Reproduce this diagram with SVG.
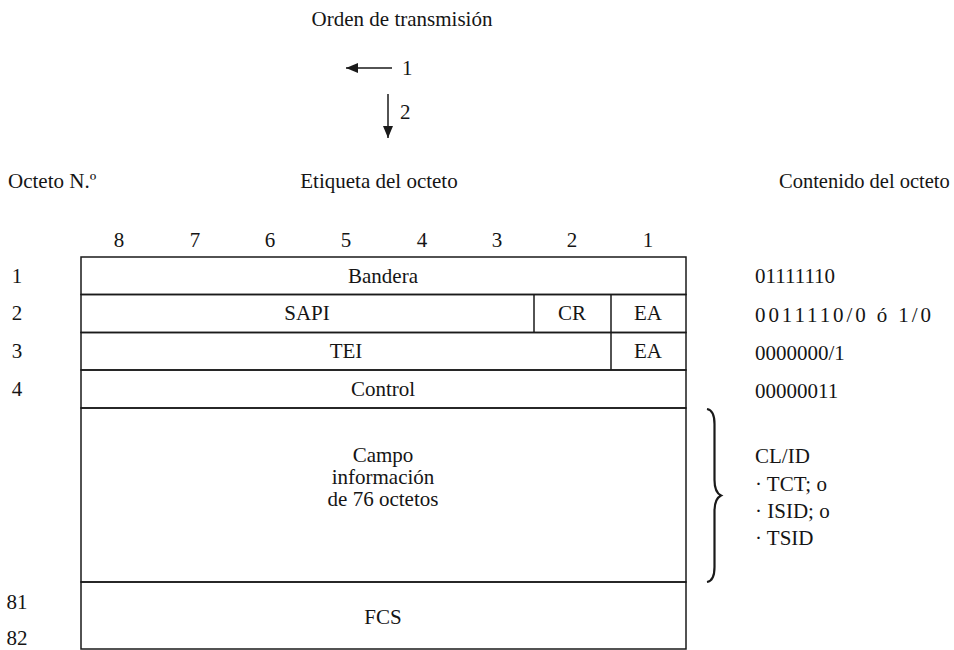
<svg xmlns="http://www.w3.org/2000/svg" width="954" height="650" viewBox="0 0 954 650" font-family="'Liberation Serif','Times New Roman',serif">
<style>
text{font-family:"Liberation Serif","Times New Roman",serif;font-size:21px;fill:#151515}
.c{text-anchor:middle}
.box{fill:none;stroke:#1a1a1a;stroke-width:1.5}
.ln{stroke:#1a1a1a;stroke-width:1.5;fill:none}
</style>
<defs>
<marker id="ah" viewBox="0 0 12 10" refX="12" refY="5" markerWidth="12" markerHeight="10" markerUnits="userSpaceOnUse" orient="auto"><path d="M0,0 L12,5 L0,10 z" fill="#1a1a1a"/></marker>
</defs>
<g id="title">
<text x="402" y="26" class="c">Orden de transmisión</text>
</g>
<g id="connectors">
<line class="ln" x1="392" y1="68" x2="346" y2="68" marker-end="url(#ah)"/>
<line class="ln" x1="388" y1="94" x2="388" y2="138" marker-end="url(#ah)"/>
<path d="M707,409 C713,410 714.5,416 714.5,424 L714.5,480 C714.5,488 716,493 721,495.5 C716,498 714.5,503 714.5,511 L714.5,567 C714.5,575 713,581 707,582" fill="none" stroke="#1a1a1a" stroke-width="2.2"/>
</g>
<g id="order-labels">
<text x="402" y="75">1</text>
<text x="400" y="119">2</text>
</g>
<g id="headers">
<text x="8" y="188">Octeto N.º</text>
<text x="379" y="188" class="c">Etiqueta del octeto</text>
<text x="779" y="188" style="font-size:20.5px">Contenido del octeto</text>
</g>
<g id="bits">
<text x="119" y="247" class="c">8</text>
<text x="195" y="247" class="c">7</text>
<text x="270" y="247" class="c">6</text>
<text x="346" y="247" class="c">5</text>
<text x="422" y="247" class="c">4</text>
<text x="497" y="247" class="c">3</text>
<text x="572" y="247" class="c">2</text>
<text x="648" y="247" class="c">1</text>
</g>
<g id="octet-numbers">
<text x="17" y="283" class="c">1</text>
<text x="17" y="320" class="c">2</text>
<text x="17" y="358" class="c">3</text>
<text x="17" y="396" class="c">4</text>
<text x="17" y="609" class="c">81</text>
<text x="17" y="645" class="c">82</text>
</g>
<g id="row-bandera">
<rect class="box" x="81" y="257" width="605" height="37.5"/>
<text x="383" y="283" class="c">Bandera</text>
</g>
<g id="row-sapi">
<rect class="box" x="81" y="294.5" width="605" height="38"/>
<line class="ln" x1="534" y1="294.5" x2="534" y2="332.5"/>
<line class="ln" x1="611" y1="294.5" x2="611" y2="370"/>
<text x="307" y="320" class="c">SAPI</text>
<text x="572" y="320" class="c">CR</text>
<text x="648" y="320" class="c">EA</text>
</g>
<g id="row-tei">
<rect class="box" x="81" y="332.5" width="605" height="37.5"/>
<text x="346" y="358" class="c">TEI</text>
<text x="648" y="358" class="c">EA</text>
</g>
<g id="row-control">
<rect class="box" x="81" y="370" width="605" height="38"/>
<text x="383" y="396" class="c">Control</text>
</g>
<g id="row-info">
<rect class="box" x="81" y="408" width="605" height="174"/>
<text x="383" y="462" class="c">Campo</text>
<text x="383" y="484" class="c">información</text>
<text x="383" y="506" class="c">de 76 octetos</text>
</g>
<g id="row-fcs">
<rect class="box" x="81" y="582" width="605" height="67"/>
<text x="383" y="624" class="c">FCS</text>
</g>
<g id="contents">
<text x="755" y="283">01111110</text>
<text x="755" y="322" textLength="176" lengthAdjust="spacing">0011110/0 ó 1/0</text>
<text x="755" y="360">0000000/1</text>
<text x="755" y="398">00000011</text>
<text x="755" y="463">CL/ID</text>
<text x="755" y="491">· TCT; o</text>
<text x="755" y="518">· ISID; o</text>
<text x="755" y="545">· TSID</text>
</g>
</svg>
